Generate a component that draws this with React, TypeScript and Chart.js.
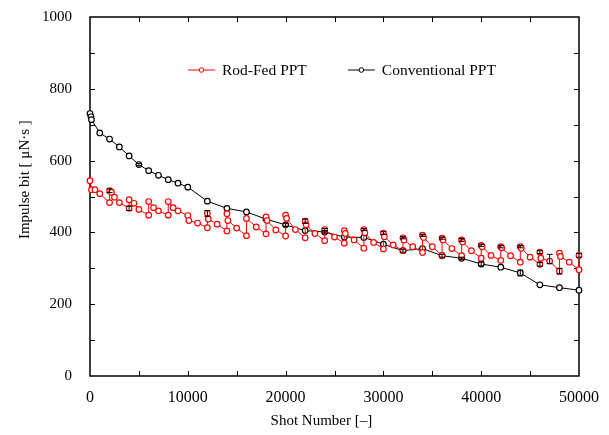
import React, { useEffect, useRef } from "react";
import { Chart, registerables } from "chart.js";

Chart.register(...registerables);

const FONT = "'Liberation Serif', 'Times New Roman', serif";

// Rod-Fed PPT (path order: low before refeed, high after refeed)
const rodShots = [
  0, 150, 500, 1000, 2000, 2000, 2200, 2500, 3000, 4000, 4000, 4500, 5000, 6000, 6000, 6500, 7000,
  8000, 8000, 8500, 9000, 10000, 10100, 11000, 12000, 12000, 12100, 13000, 14000, 14000, 14100, 15000,
  16000, 16000, 17000, 18000, 18000, 18100, 19000, 20000, 20000, 20100, 21000, 22000, 22000, 22100, 23000,
  24000, 24000, 25000, 26000, 26000, 26100, 27000, 28000, 28000, 28100, 29000, 30000, 30000, 30100, 31000,
  32000, 32000, 32100, 33000, 34000, 34000, 34100, 35000, 36000, 36000, 36100, 37000, 38000, 38000, 38100,
  39000, 40000, 40000, 40100, 41000, 42000, 42000, 42100, 43000, 44000, 44000, 44100, 45000, 46000, 46000,
  46100, 47000, 48000, 48000, 48100, 49000, 50000, 50000,
];
const rodImpulse = [
  544, 519, 519, 508, 483, 516, 512, 498, 483, 467, 491, 481, 464, 448, 486, 469, 460,
  448, 486, 469, 460, 447, 433, 426, 413, 453, 437, 423, 404, 452, 433, 412,
  391, 439, 415, 396, 443, 433, 407, 390, 448, 439, 408, 385, 431, 421, 397,
  377, 408, 387, 370, 405, 397, 379, 356, 408, 399, 372, 354, 398, 388, 365,
  349, 385, 379, 360, 344, 392, 386, 360, 336, 384, 379, 355, 335, 379, 373,
  349, 328, 364, 360, 336, 322, 360, 357, 335, 317, 360, 356, 331, 311, 345,
  328, 320, 292, 342, 333, 317, 296, 336,
];

// Conventional PPT
const convShots = [
  0, 100, 150, 1000, 2000, 3000, 4000, 5000, 6000, 7000, 8000, 9000, 10000, 12000, 14000, 16000,
  18000, 20000, 22000, 24000, 26000, 28000, 30000, 32000, 34000, 36000, 38000, 40000, 42000, 44000,
  46000, 48000, 50000,
];
const convImpulse = [
  731, 722, 714, 677, 660, 638, 613, 589, 572, 559, 547, 537, 526, 487, 467, 457,
  437, 421, 405, 401, 387, 386, 367, 349, 355, 335, 328, 312, 303, 287,
  254, 246, 239,
];

// Error bars (center value and half-width)
const rodErrShots = [2000, 4000, 12000, 22000, 24000, 28000, 30000, 32000, 34000, 36000, 38000, 40000, 42000, 44000, 46000, 46000, 47000, 48000, 50000];
const rodErrCenter = [516, 467, 453, 431, 408, 408, 398, 385, 392, 384, 379, 364, 360, 360, 345, 311, 326, 292, 336];
const rodErrHalf = [5, 6, 8, 6, 3, 3, 4, 3, 3, 3, 4, 3, 3, 3, 4, 5, 13, 8, 5];

const convErrShots = [5000, 20000, 24000, 32000, 36000, 38000, 40000, 44000];
const convErrCenter = [589, 421, 401, 349, 335, 328, 312, 287];
const convErrHalf = [3, 4, 3, 4, 4, 3, 5, 8];

// Axis ticks
const xTicks = [0, 10000, 20000, 30000, 40000, 50000];
const yTicks = [0, 200, 400, 600, 800, 1000];
const xMarks = [5000, 10000, 15000, 20000, 25000, 30000, 35000, 40000, 45000];
const yMarks = [100, 200, 300, 400, 500, 600, 700, 800, 900];

const seriesLabels = ["Rod-Fed PPT", "Conventional PPT"];
const seriesColors = ["#ff0000", "#000000"];

const framePlugin = {
  id: "frameTicks",
  beforeDatasetsDraw(chart: any) {
    const { ctx, chartArea: a, scales } = chart;
    ctx.save();
    ctx.strokeStyle = "#000";
    ctx.lineWidth = 1.5;
    ctx.strokeRect(a.left, a.top, a.right - a.left, a.bottom - a.top);
    ctx.lineWidth = 1;
    const len = 5;
    ctx.beginPath();
    xMarks.forEach((v) => {
      const px = Math.round(scales.x.getPixelForValue(v)) + 0.5;
      ctx.moveTo(px, a.bottom);
      ctx.lineTo(px, a.bottom - len);
      ctx.moveTo(px, a.top);
      ctx.lineTo(px, a.top + len);
    });
    yMarks.forEach((v) => {
      const py = Math.round(scales.y.getPixelForValue(v)) + 0.5;
      ctx.moveTo(a.left, py);
      ctx.lineTo(a.left + len, py);
      ctx.moveTo(a.right, py);
      ctx.lineTo(a.right - len, py);
    });
    ctx.stroke();
    ctx.restore();
  },
};

const errorPlugin = {
  id: "errorBarsDraw",
  afterDatasetsDraw(chart: any) {
    const { ctx, scales } = chart;
    const sets = [
      { xs: rodErrShots, cs: rodErrCenter, hs: rodErrHalf },
      { xs: convErrShots, cs: convErrCenter, hs: convErrHalf },
    ];
    ctx.save();
    ctx.strokeStyle = "#000";
    ctx.lineWidth = 1;
    ctx.beginPath();
    sets.forEach((s) => {
      s.xs.forEach((xv, i) => {
        const px = scales.x.getPixelForValue(xv);
        const top = scales.y.getPixelForValue(s.cs[i] + s.hs[i]);
        const bot = scales.y.getPixelForValue(s.cs[i] - s.hs[i]);
        ctx.moveTo(px, top);
        ctx.lineTo(px, bot);
        ctx.moveTo(px - 3, top);
        ctx.lineTo(px + 3, top);
        ctx.moveTo(px - 3, bot);
        ctx.lineTo(px + 3, bot);
      });
    });
    ctx.stroke();
    ctx.restore();
  },
};

const legendPlugin = {
  id: "insideLegend",
  afterDraw(chart: any) {
    const { ctx, chartArea } = chart;
    ctx.save();
    ctx.font = `15.5px ${FONT}`;
    ctx.textBaseline = "middle";
    ctx.textAlign = "left";
    let x = chartArea.left + 98;
    const y = chartArea.top + 53;
    const lineLen = 27;
    chart.data.datasets.forEach((ds: any) => {
      ctx.strokeStyle = ds.borderColor;
      ctx.lineWidth = 1;
      ctx.beginPath();
      ctx.moveTo(x, y);
      ctx.lineTo(x + lineLen, y);
      ctx.stroke();
      ctx.beginPath();
      ctx.arc(x + lineLen / 2, y, 2.3, 0, Math.PI * 2);
      ctx.fillStyle = "#fff";
      ctx.fill();
      ctx.stroke();
      ctx.fillStyle = "#000";
      ctx.fillText(ds.label, x + lineLen + 7, y + 1);
      x += lineLen + 7 + ctx.measureText(ds.label).width + 41;
    });
    ctx.restore();
  },
};

export default function App() {
  const ref = useRef<HTMLCanvasElement | null>(null);

  useEffect(() => {
    if (!ref.current) return;
    const mk = (xs: number[], ys: number[]) => xs.map((x, i) => ({ x, y: ys[i] }));
    const chart = new Chart(ref.current, {
      type: "line",
      data: {
        datasets: [
          {
            label: seriesLabels[0],
            data: mk(rodShots, rodImpulse),
            borderColor: seriesColors[0],
            backgroundColor: "#ffffff",
            borderWidth: 1,
            pointRadius: 2.8,
            pointBorderWidth: 1.2,
            pointBackgroundColor: "#ffffff",
            pointBorderColor: seriesColors[0],
            tension: 0,
            clip: false,
          },
          {
            label: seriesLabels[1],
            data: mk(convShots, convImpulse),
            borderColor: seriesColors[1],
            backgroundColor: "#ffffff",
            borderWidth: 1,
            pointRadius: 2.8,
            pointBorderWidth: 1.2,
            pointBackgroundColor: "#ffffff",
            pointBorderColor: seriesColors[1],
            tension: 0,
            clip: false,
          },
        ],
      },
      options: {
        animation: false,
        responsive: true,
        maintainAspectRatio: false,
        layout: { padding: { left: 0, top: 17, right: 30, bottom: 0 } },
        plugins: {
          legend: { display: false },
          tooltip: { enabled: false },
        },
        scales: {
          x: {
            type: "linear",
            min: 0,
            max: 50000,
            afterBuildTicks: (s: any) => {
              s.ticks = xTicks.map((v) => ({ value: v }));
            },
            afterFit: (s: any) => {
              s.height = 59;
              s.paddingLeft = 0;
              s.paddingRight = 0;
            },
            grid: { display: false, drawTicks: false },
            border: { display: false },
            ticks: {
              color: "#000",
              font: { family: FONT, size: 16 },
              padding: 12,
              maxRotation: 0,
              callback: (v: any) => String(v),
            },
            title: {
              display: true,
              text: "Shot Number [–]       ",
              color: "#000",
              font: { family: FONT, size: 15 },
              padding: { top: 0, bottom: 5 },
            },
          },
          y: {
            type: "linear",
            min: 0,
            max: 1000,
            afterBuildTicks: (s: any) => {
              s.ticks = yTicks.map((v) => ({ value: v }));
            },
            afterFit: (s: any) => {
              s.width = 90;
              s.paddingTop = 0;
              s.paddingBottom = 0;
            },
            grid: { display: false, drawTicks: false },
            border: { display: false },
            ticks: {
              color: "#000",
              font: { family: FONT, size: 15 },
              padding: 18,
              callback: (v: any) => String(v),
            },
            title: {
              display: true,
              text: "         Impulse bit [ μN·s ]",
              color: "#000",
              font: { family: FONT, size: 15 },
              padding: { top: 16, bottom: 0 },
            },
          },
        },
      },
      plugins: [framePlugin, errorPlugin, legendPlugin],
    });
    return () => chart.destroy();
  }, []);

  return (
    <div style={{ position: "absolute", left: 0, top: 0, width: 609, height: 435, background: "#fff" }}>
      <canvas ref={ref} />
    </div>
  );
}
